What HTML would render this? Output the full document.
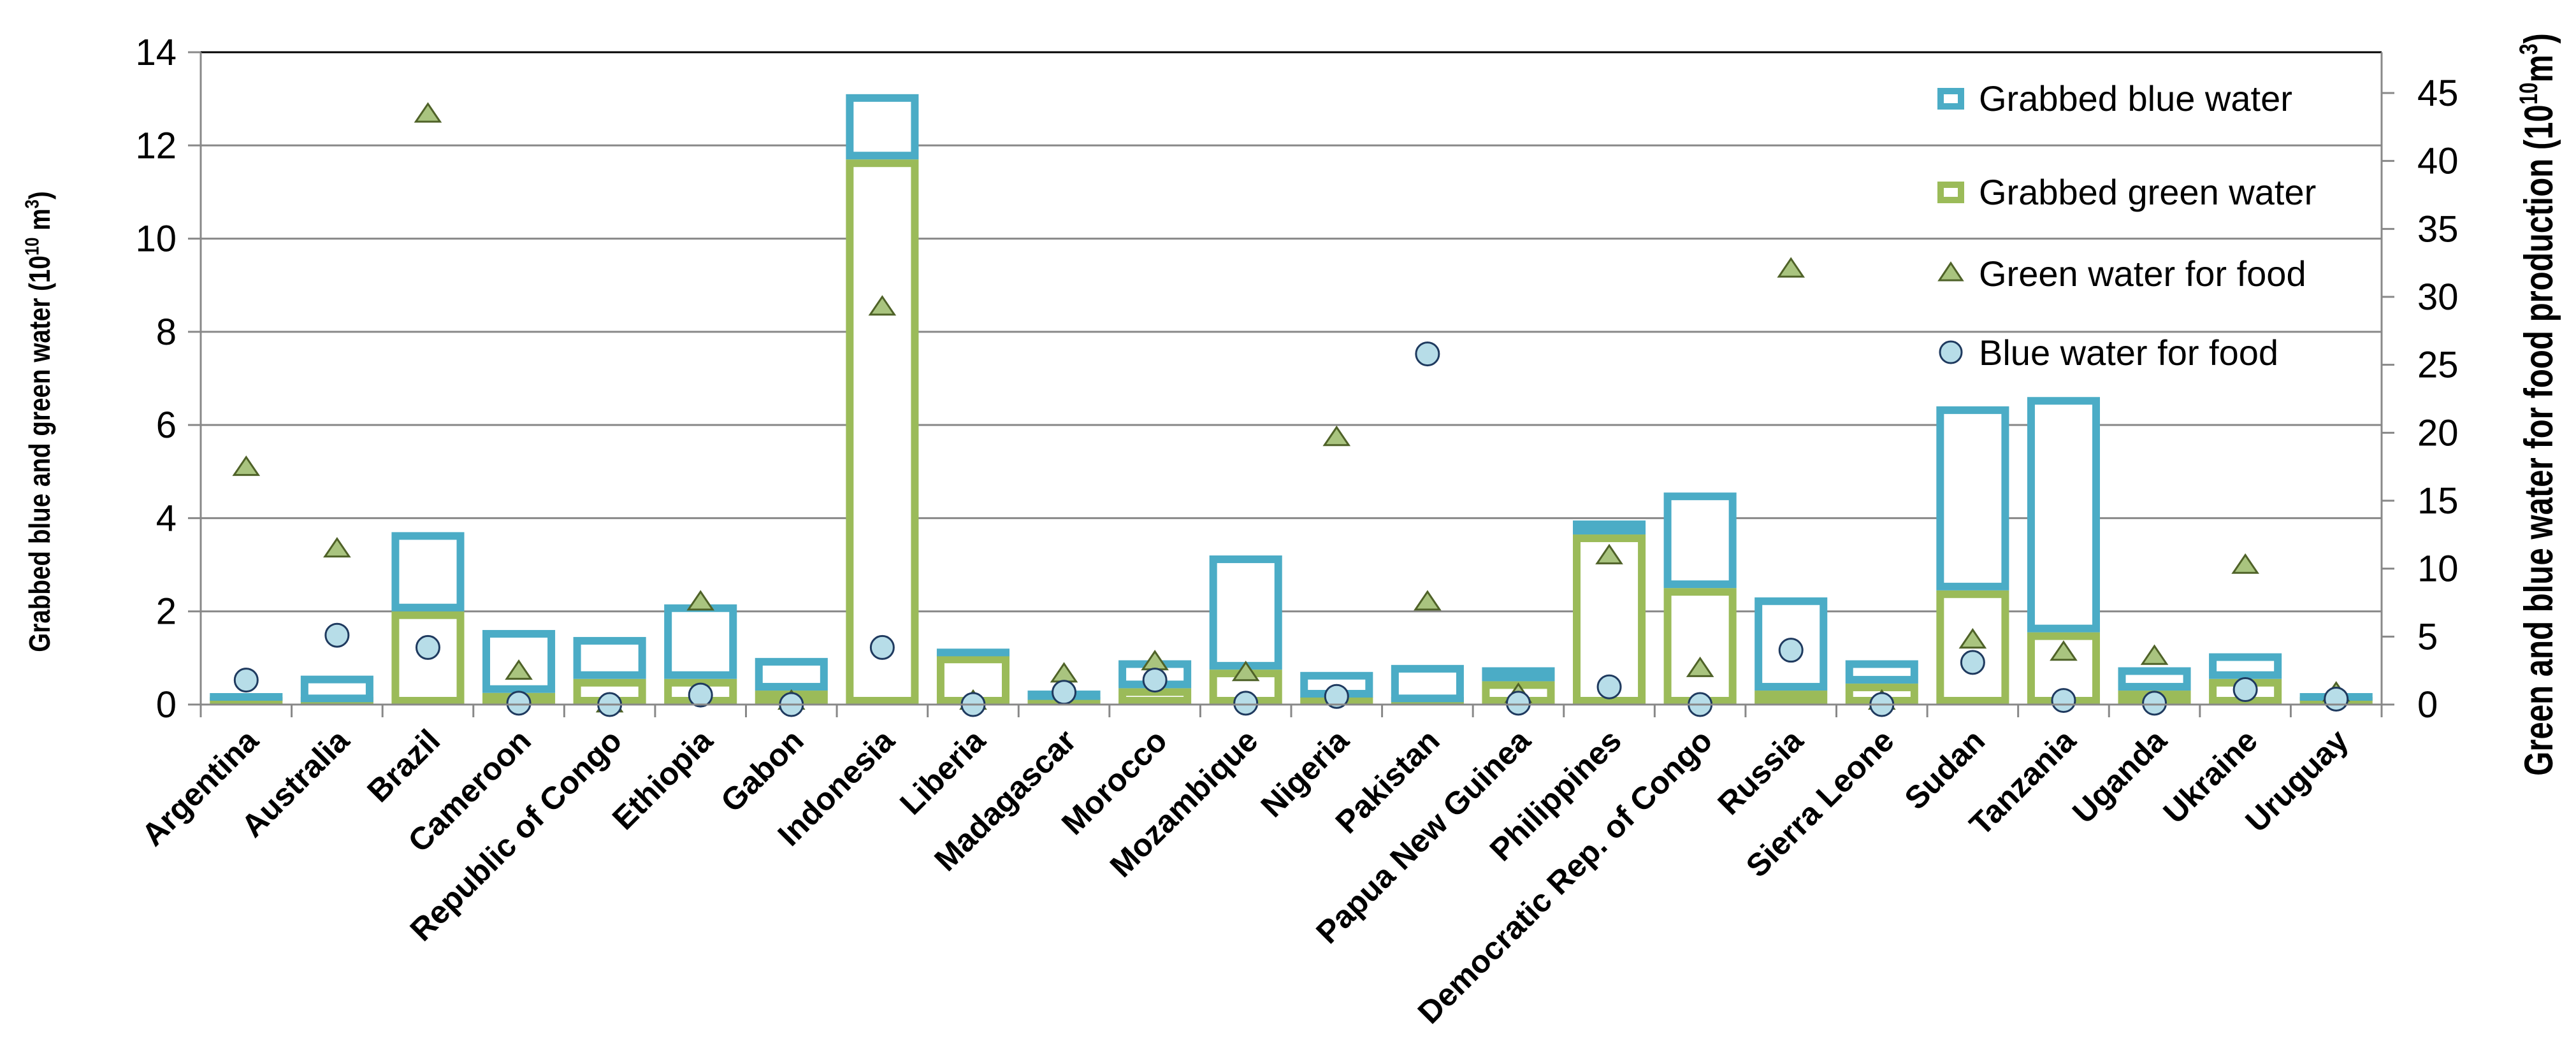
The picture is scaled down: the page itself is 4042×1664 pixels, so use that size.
<!DOCTYPE html>
<html><head><meta charset="utf-8"><style>
html,body{margin:0;padding:0;background:#fff;}
svg{display:block;font-family:"Liberation Sans",sans-serif;}
</style></head><body>
<svg id="chart" width="4042" height="1664" viewBox="0 0 4042 1664" xmlns="http://www.w3.org/2000/svg">
<g id="grid"></g>
<g id="bars"></g>
<g id="marks"></g>
<g id="axes"></g>
<text transform="translate(78,662) rotate(-90) scale(0.92,1.1)" text-anchor="middle" font-size="42" font-weight="bold">Grabbed blue and green water (10<tspan font-size="28" dy="-16">10</tspan><tspan dy="16"> m</tspan><tspan font-size="28" dy="-16">3</tspan><tspan dy="16">)</tspan></text>
<text transform="translate(4005,635) rotate(-90) scale(0.78,1)" text-anchor="middle" font-size="63" font-weight="bold">Green and blue water for food production (10<tspan font-size="40" dy="-24">10</tspan><tspan dy="24">m</tspan><tspan font-size="40" dy="-24">3</tspan><tspan dy="24">)</tspan></text>
<g font-size="56">
 <g><rect x="3045" y="143" width="32" height="24" fill="#fff" stroke="#4bacc6" stroke-width="10"/><text x="3105" y="174">Grabbed blue water</text></g>
 <g><rect x="3045" y="290" width="32" height="24" fill="#fff" stroke="#9bbb59" stroke-width="10"/><text x="3105" y="321">Grabbed green water</text></g>
 <g><polygon points="3061,413 3079,440 3043,440" fill="#a9c47f" stroke="#4f6228" stroke-width="3"/><text x="3105" y="449">Green water for food</text></g>
 <g><circle cx="3061" cy="553" r="17" fill="#b7dde8" stroke="#1f3a5f" stroke-width="3"/><text x="3105" y="573">Blue water for food</text></g>
</g>
</svg>
<script>
const categories=["Argentina","Australia","Brazil","Cameroon","Republic of Congo","Ethiopia","Gabon","Indonesia","Liberia","Madagascar","Morocco","Mozambique","Nigeria","Pakistan","Papua New Guinea","Philippines","Democratic Rep. of Congo","Russia","Sierra Leone","Sudan","Tanzania","Uganda","Ukraine","Uruguay"];
const grabbedGreen=[0.02,0.05,2.0,0.25,0.55,0.55,0.3,11.7,1.05,0.1,0.35,0.75,0.15,0.05,0.5,3.65,2.5,0.3,0.45,2.45,1.55,0.3,0.55,0.05];
const grabbedBlue=[0.08,0.57,1.7,1.35,0.9,1.6,0.7,1.4,0.15,0.2,0.6,2.45,0.55,0.8,0.3,0.3,2.05,2.0,0.5,3.95,5.05,0.5,0.55,0.15];
const greenFood=[17.5,11.5,43.5,2.5,0.1,7.6,0.3,29.3,0.3,2.3,3.2,2.4,19.7,7.6,0.8,11.0,2.7,32.1,0.3,4.8,3.9,3.6,10.3,0.9];
const blueFood=[1.8,5.1,4.2,0.1,0,0.7,0,4.2,0,0.9,1.8,0.1,0.6,25.8,0.1,1.3,0,4.0,0,3.1,0.3,0.1,1.1,0.4];
const leftTicks=[0,2,4,6,8,10,12,14];
const rightTicks=[0,5,10,15,20,25,30,35,40,45];
const NS="http://www.w3.org/2000/svg";
const X0=315,X1=3737,Y0=1106,Y1=82;
const bw=(X1-X0)/categories.length;
function yL(v){return Y0-(Y0-Y1)*v/14;}
function yR(v){return Y0-(Y0-Y1)*v/48;}
function xC(i){return X0+bw*(i+0.5);}
function mk(tag,attrs,parent){const e=document.createElementNS(NS,tag);for(const k in attrs)e.setAttribute(k,attrs[k]);parent.appendChild(e);return e;}
const gridG=document.getElementById('grid'),barsG=document.getElementById('bars'),marksG=document.getElementById('marks'),axesG=document.getElementById('axes');
leftTicks.forEach(t=>{
 const y=yL(t);
 if(t>0&&t<14){const l=mk('line',{x1:X0,x2:X1,y1:y,y2:y,stroke:'#888','stroke-width':3},gridG);
 
 }
 const tk=mk('line',{x1:X0-20,x2:X0,y1:y,y2:y,stroke:'#888','stroke-width':3},axesG);
 
 
 const tx=mk('text',{x:X0-38,y:y+20,'text-anchor':'end','font-size':58},axesG);tx.textContent=t;
 
 
});
const topBorder=mk('line',{x1:X0,x2:X1,y1:Y1,y2:Y1,stroke:'#000','stroke-width':3},axesG);


const leftAxis=mk('line',{x1:X0,x2:X0,y1:Y1,y2:Y0+20,stroke:'#888','stroke-width':3},axesG);


const rightAxis=mk('line',{x1:X1,x2:X1,y1:Y1,y2:Y0+20,stroke:'#888','stroke-width':3},axesG);


const xAxis=mk('line',{x1:X0-20,x2:X1+20,y1:Y0,y2:Y0,stroke:'#888','stroke-width':3},axesG);


rightTicks.forEach(t=>{
 const y=yR(t);
 const tk=mk('line',{x1:X1,x2:X1+20,y1:y,y2:y,stroke:'#888','stroke-width':3},axesG);
 
 
 const tx=mk('text',{x:3793,y:y+20,'font-size':58},axesG);tx.textContent=t;
 
 
});
categories.forEach((c,i)=>{
 const xb=X0+bw*i;
 const tk=mk('line',{x1:xb,x2:xb,y1:Y0,y2:Y0+20,stroke:'#888','stroke-width':3},axesG);
 
 
 const cx=xC(i),w=bw*0.8,sw=12;
 const g=grabbedGreen[i],b=grabbedBlue[i];
 const gy=yL(g),ty=yL(g+b);
 const gh=Math.max(Y0-gy-sw,0.01);
 const gr=mk('rect',{x:cx-w/2+sw/2,y:Math.min(gy+sw/2,Y0-sw/2),width:w-sw,height:gh,fill:'#fff',stroke:'#9bbb59','stroke-width':sw},barsG);
 
 
 const bh=Math.max(gy-ty-sw,0.01);
 const br=mk('rect',{x:cx-w/2+sw/2,y:Math.min(ty+sw/2,Y0-sw),width:w-sw,height:bh,fill:'#fff',stroke:'#4bacc6','stroke-width':sw},barsG);
 
 
 const lb=mk('text',{transform:'translate('+(cx+22)+','+(Y0+60)+') rotate(-45)','text-anchor':'end','font-size':50,'font-weight':'bold'},axesG);
 lb.textContent=c;
 
 
});
categories.forEach((c,i)=>{
 const cx=xC(i);
 const ty=yR(greenFood[i]);
 const tr=mk('polygon',{points:cx+','+(ty-15)+' '+(cx+19)+','+(ty+13)+' '+(cx-19)+','+(ty+13),fill:'#a9c47f',stroke:'#4f6228','stroke-width':3},marksG);
 
 
 const cy=yR(blueFood[i]);
 const ci=mk('circle',{cx:cx,cy:cy,r:18,fill:'#b7dde8',stroke:'#1f3a5f','stroke-width':3},marksG);
 
 
});
</script>
</body></html>
